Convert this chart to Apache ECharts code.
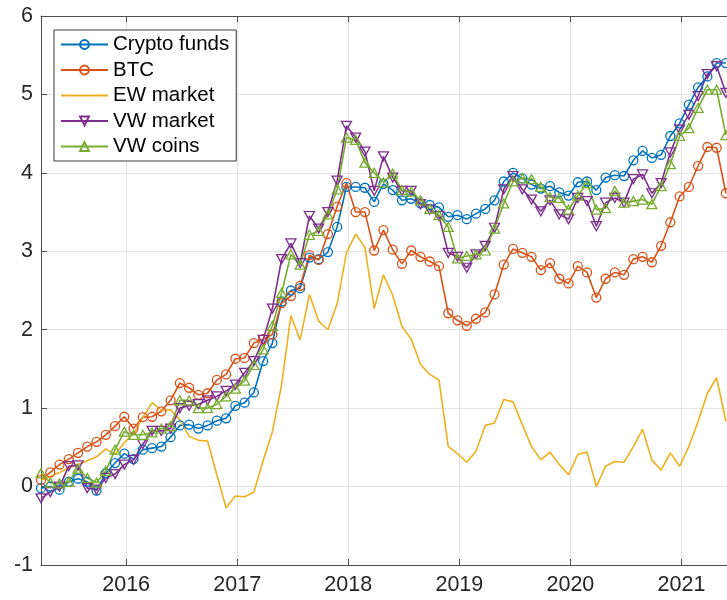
<!DOCTYPE html>
<html>
<head>
<meta charset="utf-8">
<script src="https://cdn.jsdelivr.net/npm/echarts@6/dist/echarts.min.js"></script>
<style>
  html, body { margin: 0; padding: 0; background: #fff; }
  #chart { width: 727px; height: 600px; }
</style>
</head>
<body>
<div id="chart"></div>
<script>
// monthly observations, Mar 2015 - May 2021
var months = [
  '2015-03','2015-04','2015-05','2015-06','2015-07','2015-08','2015-09','2015-10','2015-11','2015-12',
  '2016-01','2016-02','2016-03','2016-04','2016-05','2016-06','2016-07','2016-08','2016-09','2016-10','2016-11','2016-12',
  '2017-01','2017-02','2017-03','2017-04','2017-05','2017-06','2017-07','2017-08','2017-09','2017-10','2017-11','2017-12',
  '2018-01','2018-02','2018-03','2018-04','2018-05','2018-06','2018-07','2018-08','2018-09','2018-10','2018-11','2018-12',
  '2019-01','2019-02','2019-03','2019-04','2019-05','2019-06','2019-07','2019-08','2019-09','2019-10','2019-11','2019-12',
  '2020-01','2020-02','2020-03','2020-04','2020-05','2020-06','2020-07','2020-08','2020-09','2020-10','2020-11','2020-12',
  '2021-01','2021-02','2021-03','2021-04','2021-05'
];

var cryptoFunds = [
  -0.02, 0.0, -0.04, 0.06, 0.1, 0.06, -0.05, 0.17, 0.3, 0.42,
  0.35, 0.47, 0.49, 0.51, 0.63, 0.78, 0.79, 0.74, 0.78, 0.84, 0.87, 1.03,
  1.07, 1.2, 1.6, 1.83, 2.36, 2.5, 2.53, 2.92, 2.9, 2.99, 3.31, 3.82,
  3.82, 3.81, 3.63, 3.86, 3.78, 3.65, 3.67, 3.61, 3.59, 3.56, 3.44, 3.46,
  3.41, 3.48, 3.54, 3.65, 3.89, 4.0, 3.93, 3.85, 3.8, 3.83, 3.75, 3.71,
  3.88, 3.89, 3.78, 3.94, 3.97, 3.96, 4.16, 4.28, 4.19, 4.23, 4.47, 4.63,
  4.87, 5.09, 5.23, 5.4, 5.4
];
var btc = [
  0.085, 0.18, 0.28, 0.35, 0.43, 0.51, 0.57, 0.66, 0.77, 0.89,
  0.74, 0.885, 0.89, 0.96, 1.1, 1.32, 1.26, 1.17, 1.19, 1.36, 1.43, 1.63,
  1.64, 1.83, 1.88, 1.94, 2.34, 2.43, 2.56, 2.95, 2.89, 3.22, 3.57, 3.87,
  3.5, 3.5, 3.01, 3.27, 3.02, 2.84, 3.01, 2.93, 2.87, 2.81, 2.21, 2.12,
  2.05, 2.14, 2.22, 2.45, 2.83, 3.03, 2.98, 2.93, 2.76, 2.85, 2.65, 2.59,
  2.81, 2.73, 2.41, 2.65, 2.73, 2.7, 2.9, 2.93, 2.86, 3.07, 3.37, 3.7,
  3.82, 4.09, 4.33, 4.32, 3.74
];
var ewMarket = [
  0.08, 0.13, 0.18, 0.24, 0.28, 0.33, 0.38, 0.48, 0.41, 0.56,
  0.67, 0.88, 1.07, 0.97, 0.98, 0.85, 0.64, 0.59, 0.58, 0.15, -0.27, -0.12,
  -0.13, -0.07, 0.33, 0.7, 1.3, 2.18, 1.87, 2.45, 2.11, 2.0, 2.33, 2.98,
  3.22, 3.05, 2.27, 2.7, 2.44, 2.04, 1.88, 1.56, 1.43, 1.36, 0.51, 0.42,
  0.31, 0.45, 0.78, 0.81, 1.11, 1.08, 0.79, 0.51, 0.34, 0.44, 0.28, 0.15,
  0.41, 0.44, 0.0, 0.26, 0.32, 0.31, 0.51, 0.73, 0.34, 0.21, 0.43, 0.26,
  0.51, 0.83, 1.19, 1.39, 0.83
];
var vwMarket = [
  -0.15, -0.07, 0.0, 0.26, 0.27, -0.02, -0.04, 0.11, 0.16, 0.28,
  0.34, 0.54, 0.71, 0.71, 0.74, 1.0, 1.03, 1.05, 1.1, 1.15, 1.22, 1.3,
  1.45, 1.6, 1.87, 2.27, 2.9, 3.1, 2.85, 3.45, 3.29, 3.5, 3.9, 4.6,
  4.45, 4.27, 3.77, 4.21, 3.94, 3.77, 3.77, 3.6, 3.53, 3.45, 2.98, 2.93,
  2.79, 2.96, 3.07, 3.3, 3.79, 3.96, 3.79, 3.66, 3.51, 3.65, 3.47, 3.41,
  3.68, 3.64, 3.32, 3.62, 3.68, 3.62, 3.92, 3.98, 3.74, 3.87, 4.26, 4.55,
  4.74, 4.98, 5.26, 5.36, 5.02
];
var vwCoins = [
  0.17, 0.05, 0.04, 0.06, 0.23, 0.11, 0.05, 0.2, 0.47, 0.7,
  0.66, 0.66, 0.69, 0.74, 0.77, 1.1, 1.1, 1.0, 1.0, 1.05, 1.15, 1.25,
  1.35, 1.55, 1.75, 2.05, 2.47, 2.96, 2.83, 3.21, 3.26, 3.47, 3.79, 4.45,
  4.42, 4.13, 4.0, 3.88, 3.99, 3.78, 3.76, 3.65, 3.54, 3.46, 3.31, 2.91,
  2.94, 2.96, 3.01, 3.29, 3.61, 3.89, 3.93, 3.92, 3.82, 3.69, 3.68, 3.53,
  3.71, 3.87, 3.53, 3.55, 3.77, 3.62, 3.64, 3.66, 3.6, 3.83, 4.11, 4.47,
  4.57, 4.83, 5.06, 5.06, 4.48
];

var yearTicks = [2016, 2017, 2018, 2019, 2020, 2021];
var yTicks = { min: -1, max: 6, step: 1 };

var FONT = "'Liberation Sans', Arial, Helvetica, sans-serif";
var AXIS_COLOR = '#4d4d4d';

// month string -> decimal year (points sit near the end of each month)
function toYear(m) {
  var p = m.split('-');
  return +p[0] + (+p[1] - 0.2) / 12;
}
function pairs(vals) {
  return vals.map(function (v, i) { return [toYear(months[i]), v]; });
}

var xMin = toYear(months[0]);
var xMax = 2021.41;

function lineSeries(name, color, vals, symbol, extra) {
  var s = {
    name: name,
    type: 'line',
    data: pairs(vals),
    symbol: symbol,
    symbolSize: 9,
    showSymbol: true,
    lineStyle: { color: color, width: 1.6 },
    itemStyle: { color: 'rgba(255,255,255,0)', borderColor: color, borderWidth: 1.3 },
    emphasis: { disabled: true },
    animation: false
  };
  for (var k in extra) s[k] = extra[k];
  return s;
}

var chart = echarts.init(document.getElementById('chart'));
chart.setOption({
  backgroundColor: '#fff',
  animation: false,
  textStyle: { fontFamily: FONT },
  grid: { left: 41, right: 0, top: 16, bottom: 35, containLabel: false, outerBoundsMode: 'none' },
  legend: {
    orient: 'vertical',
    left: 54,
    top: 30,
    padding: [4, 7, 4, 6],
    itemWidth: 47,
    itemHeight: 11,
    itemGap: 4.5,
    backgroundColor: '#fff',
    borderColor: '#3a3a3a',
    borderWidth: 1,
    textStyle: { fontFamily: FONT, fontSize: 20.5, color: '#000', lineHeight: 20 },
    data: [
      'Crypto funds',
      'BTC',
      { name: 'EW market', icon: 'path://M0,0h47v2h-47z', itemStyle: { color: '#EDB120', borderWidth: 0 } },
      'VW market',
      'VW coins'
    ]
  },
  xAxis: [
    {
      type: 'value',
      position: 'bottom',
      min: xMin,
      max: xMax,
      axisLine: { show: true, onZero: false, lineStyle: { color: AXIS_COLOR, width: 1 } },
      axisTick: { show: true, inside: true, length: 6, customValues: yearTicks, lineStyle: { color: AXIS_COLOR } },
      axisLabel: {
        customValues: yearTicks,
        margin: 9,
        fontSize: 21.5,
        color: '#262626',
        fontFamily: FONT,
        formatter: function (v) { return String(Math.round(v)); }
      },
      splitLine: { show: true, lineStyle: { color: '#e3e3e3', width: 1 } }
    },
    {
      type: 'value',
      position: 'top',
      min: xMin,
      max: xMax,
      axisLine: { show: true, onZero: false, lineStyle: { color: AXIS_COLOR, width: 1 } },
      axisTick: { show: true, inside: true, length: 6, customValues: yearTicks, lineStyle: { color: AXIS_COLOR } },
      axisLabel: { show: false },
      splitLine: { show: false }
    }
  ],
  yAxis: {
    type: 'value',
    min: yTicks.min,
    max: yTicks.max,
    interval: yTicks.step,
    axisLine: { show: true, onZero: false, lineStyle: { color: AXIS_COLOR, width: 1 } },
    axisTick: { show: true, inside: true, length: 6, lineStyle: { color: AXIS_COLOR } },
    axisLabel: { margin: 8, fontSize: 21.5, color: '#262626', fontFamily: FONT },
    splitLine: { show: true, lineStyle: { color: '#e3e3e3', width: 1 } }
  },
  series: [
    lineSeries('Crypto funds', '#0072BD', cryptoFunds, 'circle'),
    lineSeries('BTC', '#D95319', btc, 'circle'),
    lineSeries('EW market', '#EDB120', ewMarket, 'circle', { showSymbol: false, symbolSize: 0 }),
    lineSeries('VW market', '#7E2F8E', vwMarket, 'triangle', { symbolSize: [10, 9], symbolRotate: 180 }),
    lineSeries('VW coins', '#77AC30', vwCoins, 'triangle', { symbolSize: [10, 9] })
  ]
});
</script>
</body>
</html>
